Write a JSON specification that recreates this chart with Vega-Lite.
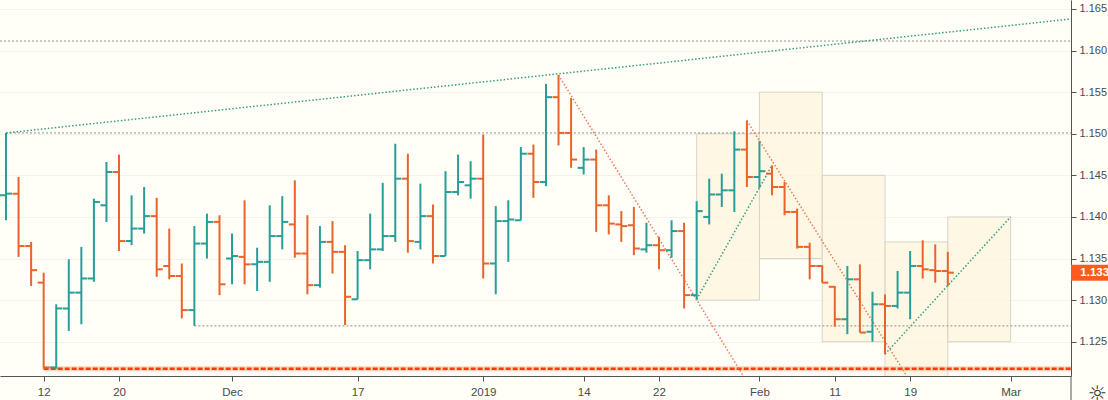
{
  "$schema": "https://vega.github.io/schema/vega-lite/v6.json",
  "width": 1071,
  "height": 376,
  "autosize": {"type": "none"},
  "padding": {"left": 0, "top": 0, "right": 37, "bottom": 24},
  "background": "#fffef7",
  "config": {"view": {"stroke": null}, "font": "Liberation Sans"},
  "datasets": {
    "bars": [
      {"i": 0, "o": 1.1426, "h": 1.1501, "l": 1.1396, "c": 1.1428},
      {"i": 1, "o": 1.1428, "h": 1.1448, "l": 1.1352, "c": 1.1365},
      {"i": 2, "o": 1.1365, "h": 1.1370, "l": 1.1317, "c": 1.1336},
      {"i": 3, "o": 1.1321, "h": 1.1333, "l": 1.12175, "c": 1.1219},
      {"i": 4, "o": 1.1219, "h": 1.1295, "l": 1.12175, "c": 1.1290},
      {"i": 5, "o": 1.1290, "h": 1.1349, "l": 1.1263, "c": 1.1309},
      {"i": 6, "o": 1.1309, "h": 1.1364, "l": 1.1271, "c": 1.1326},
      {"i": 7, "o": 1.1326, "h": 1.1422, "l": 1.1322, "c": 1.1418},
      {"i": 8, "o": 1.1414, "h": 1.1466, "l": 1.1394, "c": 1.1454},
      {"i": 9, "o": 1.1454, "h": 1.1475, "l": 1.1359, "c": 1.1371},
      {"i": 10, "o": 1.1371, "h": 1.1426, "l": 1.1366, "c": 1.1386},
      {"i": 11, "o": 1.1386, "h": 1.1436, "l": 1.1380, "c": 1.1401},
      {"i": 12, "o": 1.1401, "h": 1.1423, "l": 1.1328, "c": 1.1337},
      {"i": 13, "o": 1.1341, "h": 1.1386, "l": 1.1325, "c": 1.1329},
      {"i": 14, "o": 1.1329, "h": 1.1344, "l": 1.1278, "c": 1.1288},
      {"i": 15, "o": 1.1288, "h": 1.1389, "l": 1.1269, "c": 1.1368},
      {"i": 16, "o": 1.1368, "h": 1.1404, "l": 1.1350, "c": 1.1394},
      {"i": 17, "o": 1.1394, "h": 1.1402, "l": 1.1306, "c": 1.1319},
      {"i": 18, "o": 1.1350, "h": 1.1380, "l": 1.1319, "c": 1.1353},
      {"i": 19, "o": 1.1352, "h": 1.1420, "l": 1.1319, "c": 1.1343},
      {"i": 20, "o": 1.1343, "h": 1.1363, "l": 1.1311, "c": 1.1346},
      {"i": 21, "o": 1.1346, "h": 1.1414, "l": 1.1322, "c": 1.1377},
      {"i": 22, "o": 1.1377, "h": 1.1425, "l": 1.1361, "c": 1.1394},
      {"i": 23, "o": 1.1391, "h": 1.1444, "l": 1.1351, "c": 1.1356},
      {"i": 24, "o": 1.1356, "h": 1.1402, "l": 1.1307, "c": 1.1318},
      {"i": 25, "o": 1.1318, "h": 1.1389, "l": 1.1315, "c": 1.1370},
      {"i": 26, "o": 1.1370, "h": 1.1395, "l": 1.1332, "c": 1.1358},
      {"i": 27, "o": 1.1358, "h": 1.1366, "l": 1.1270, "c": 1.1304},
      {"i": 28, "o": 1.1301, "h": 1.1359, "l": 1.1301, "c": 1.1348},
      {"i": 29, "o": 1.1348, "h": 1.1404, "l": 1.1337, "c": 1.1361},
      {"i": 30, "o": 1.1361, "h": 1.1441, "l": 1.1359, "c": 1.1377},
      {"i": 31, "o": 1.1377, "h": 1.1488, "l": 1.1370, "c": 1.1446},
      {"i": 32, "o": 1.1446, "h": 1.1476, "l": 1.1357, "c": 1.1371},
      {"i": 33, "o": 1.1370, "h": 1.1440, "l": 1.1361, "c": 1.1401},
      {"i": 34, "o": 1.1401, "h": 1.1415, "l": 1.1344, "c": 1.1353},
      {"i": 35, "o": 1.1353, "h": 1.1455, "l": 1.1353, "c": 1.1430},
      {"i": 36, "o": 1.1430, "h": 1.1475, "l": 1.1426, "c": 1.1442},
      {"i": 37, "o": 1.1438, "h": 1.1467, "l": 1.1422, "c": 1.1446},
      {"i": 38, "o": 1.1446, "h": 1.1499, "l": 1.1326, "c": 1.1344},
      {"i": 39, "o": 1.1344, "h": 1.1413, "l": 1.1307, "c": 1.1395},
      {"i": 40, "o": 1.1395, "h": 1.1420, "l": 1.1346, "c": 1.1397},
      {"i": 41, "o": 1.1396, "h": 1.1484, "l": 1.1396, "c": 1.1476},
      {"i": 42, "o": 1.1476, "h": 1.1487, "l": 1.1423, "c": 1.1442},
      {"i": 43, "o": 1.1442, "h": 1.1560, "l": 1.1437, "c": 1.1544},
      {"i": 44, "o": 1.1544, "h": 1.15706, "l": 1.1486, "c": 1.1501},
      {"i": 45, "o": 1.1501, "h": 1.1543, "l": 1.1459, "c": 1.1469},
      {"i": 46, "o": 1.1459, "h": 1.1484, "l": 1.1451, "c": 1.1469},
      {"i": 47, "o": 1.1469, "h": 1.1481, "l": 1.1382, "c": 1.1414},
      {"i": 48, "o": 1.1414, "h": 1.1426, "l": 1.1379, "c": 1.1392},
      {"i": 49, "o": 1.1391, "h": 1.1407, "l": 1.1370, "c": 1.1389},
      {"i": 50, "o": 1.1390, "h": 1.1412, "l": 1.1354, "c": 1.1362},
      {"i": 51, "o": 1.1361, "h": 1.1393, "l": 1.1357, "c": 1.1366},
      {"i": 52, "o": 1.1366, "h": 1.1376, "l": 1.1337, "c": 1.1360},
      {"i": 53, "o": 1.1360, "h": 1.1396, "l": 1.1351, "c": 1.1383},
      {"i": 54, "o": 1.1383, "h": 1.1393, "l": 1.1290, "c": 1.1306},
      {"i": 55, "o": 1.1306, "h": 1.1419, "l": 1.1301, "c": 1.1407},
      {"i": 56, "o": 1.1400, "h": 1.1446, "l": 1.1391, "c": 1.1427},
      {"i": 57, "o": 1.1427, "h": 1.1452, "l": 1.1412, "c": 1.1432},
      {"i": 58, "o": 1.1432, "h": 1.1503, "l": 1.1406, "c": 1.1481},
      {"i": 59, "o": 1.1481, "h": 1.1516, "l": 1.1436, "c": 1.1448},
      {"i": 60, "o": 1.1448, "h": 1.1491, "l": 1.1435, "c": 1.1455},
      {"i": 61, "o": 1.1452, "h": 1.1462, "l": 1.1426, "c": 1.1436},
      {"i": 62, "o": 1.1436, "h": 1.1442, "l": 1.1402, "c": 1.1406},
      {"i": 63, "o": 1.1406, "h": 1.1410, "l": 1.1362, "c": 1.1364},
      {"i": 64, "o": 1.1364, "h": 1.1369, "l": 1.1325, "c": 1.1341},
      {"i": 65, "o": 1.1341, "h": 1.1342, "l": 1.1321, "c": 1.1321},
      {"i": 66, "o": 1.1316, "h": 1.1317, "l": 1.1268, "c": 1.1277},
      {"i": 67, "o": 1.1277, "h": 1.1341, "l": 1.1259, "c": 1.1325},
      {"i": 68, "o": 1.1325, "h": 1.1343, "l": 1.1261, "c": 1.1261},
      {"i": 69, "o": 1.1262, "h": 1.1310, "l": 1.1250, "c": 1.1295},
      {"i": 70, "o": 1.1295, "h": 1.1307, "l": 1.1235, "c": 1.1293},
      {"i": 71, "o": 1.1293, "h": 1.1335, "l": 1.1290, "c": 1.1309},
      {"i": 72, "o": 1.1309, "h": 1.1359, "l": 1.1277, "c": 1.1341},
      {"i": 73, "o": 1.1341, "h": 1.1372, "l": 1.1326, "c": 1.1337},
      {"i": 74, "o": 1.1336, "h": 1.1367, "l": 1.1321, "c": 1.1335},
      {"i": 75, "o": 1.1335, "h": 1.1358, "l": 1.1317, "c": 1.1333}
    ],
    "boxes": [
      {"x0": 55, "x1": 60, "lo": 1.1300, "hi": 1.1500},
      {"x0": 60, "x1": 65, "lo": 1.1350, "hi": 1.1550},
      {"x0": 65, "x1": 70, "lo": 1.1250, "hi": 1.1450},
      {"x0": 70, "x1": 75, "lo": 1.1170, "hi": 1.1370},
      {"x0": 75, "x1": 80, "lo": 1.1250, "hi": 1.1400}
    ],
    "levels": [
      {"x0": -0.478, "x1": 84.81, "y": 1.16115},
      {"x0": 0, "x1": 84.81, "y": 1.1501},
      {"x0": 15, "x1": 84.81, "y": 1.1269}
    ],
    "support": [
      {"x0": 3, "x1": 84.81, "y": 1.12175}
    ],
    "trends": [
      {"id": "g1", "kind": "up", "x": 0, "y": 1.1501},
      {"id": "g1", "kind": "up", "x": 84.81, "y": 1.1638},
      {"id": "r1", "kind": "down", "x": 44, "y": 1.15706},
      {"id": "r1", "kind": "down", "x": 60, "y": 1.11773},
      {"id": "r2", "kind": "down", "x": 59, "y": 1.15157},
      {"id": "r2", "kind": "down", "x": 73, "y": 1.11782},
      {"id": "g2", "kind": "up", "x": 55, "y": 1.1301},
      {"id": "g2", "kind": "up", "x": 61, "y": 1.1462},
      {"id": "g3", "kind": "up", "x": 70, "y": 1.1235},
      {"id": "g3", "kind": "up", "x": 80, "y": 1.1400}
    ],
    "last": [
      {"price": 1.1333, "lo": 1.13234, "hi": 1.13426, "label": "1.1334"}
    ]
  },
  "layer": [
    {
      "data": {"name": "boxes"},
      "mark": {"type": "rect", "fill": "#fcf4de", "fillOpacity": 0.75, "stroke": "#d8d4c6", "strokeWidth": 1, "clip": true},
      "encoding": {
        "x": {
          "field": "x0", "type": "quantitative", "title": null,
          "scale": {"domain": [-0.478, 84.81], "nice": false, "zero": false},
          "axis": {
            "values": [3, 9, 18, 28, 38, 46, 52, 60, 66, 72, 80],
            "labelExpr": "datum.value == 3 ? '12' : datum.value == 9 ? '20' : datum.value == 18 ? 'Dec' : datum.value == 28 ? '17' : datum.value == 38 ? '2019' : datum.value == 46 ? '14' : datum.value == 52 ? '22' : datum.value == 60 ? 'Feb' : datum.value == 66 ? '11' : datum.value == 72 ? '19' : 'Mar'",
            "grid": false,
            "domainColor": "#555555",
            "tickColor": "#555555",
            "tickSize": 5,
            "labelColor": "#4a4a4a",
            "labelFontSize": 11.5,
            "labelPadding": 5,
            "labelFlush": false
          }
        },
        "x2": {"field": "x1"},
        "y": {
          "field": "lo", "type": "quantitative", "title": null,
          "scale": {"domain": [1.120876, 1.166082], "nice": false, "zero": false},
          "axis": {
            "orient": "right",
            "values": [1.125, 1.13, 1.135, 1.14, 1.145, 1.15, 1.155, 1.16, 1.165],
            "format": ".3f",
            "grid": true,
            "gridColor": "#f3f3ea",
            "gridWidth": 1,
            "domainColor": "#555555",
            "tickColor": "#555555",
            "tickSize": 5,
            "labelColor": "#4a4a4a",
            "labelFontSize": 11,
            "labelPadding": 3,
            "labelFlush": false
          }
        },
        "y2": {"field": "hi"}
      }
    },
    {
      "data": {"name": "levels"},
      "mark": {"type": "rule", "stroke": "#909090", "strokeWidth": 1, "strokeDash": [2, 2], "clip": true},
      "encoding": {
        "x": {"field": "x0", "type": "quantitative", "title": null, "scale": {"domain": [-0.478, 84.81], "nice": false, "zero": false}},
        "x2": {"field": "x1"},
        "y": {"field": "y", "type": "quantitative", "title": null, "scale": {"domain": [1.120876, 1.166082], "nice": false, "zero": false}}
      }
    },
    {
      "data": {"name": "support"},
      "mark": {"type": "rule", "stroke": "#ffb89a", "strokeWidth": 5, "opacity": 0.6, "clip": true},
      "encoding": {
        "x": {"field": "x0", "type": "quantitative", "title": null, "scale": {"domain": [-0.478, 84.81], "nice": false, "zero": false}},
        "x2": {"field": "x1"},
        "y": {"field": "y", "type": "quantitative", "title": null, "scale": {"domain": [1.120876, 1.166082], "nice": false, "zero": false}}
      }
    },
    {
      "data": {"name": "support"},
      "mark": {"type": "rule", "stroke": "#ff3a12", "strokeWidth": 2.5, "strokeDash": [5, 2], "clip": true},
      "encoding": {
        "x": {"field": "x0", "type": "quantitative", "title": null, "scale": {"domain": [-0.478, 84.81], "nice": false, "zero": false}},
        "x2": {"field": "x1"},
        "y": {"field": "y", "type": "quantitative", "title": null, "scale": {"domain": [1.120876, 1.166082], "nice": false, "zero": false}}
      }
    },
    {
      "data": {"name": "trends"},
      "mark": {"type": "line", "strokeWidth": 1.5, "strokeDash": [1.5, 2], "clip": true},
      "encoding": {
        "x": {"field": "x", "type": "quantitative", "title": null, "scale": {"domain": [-0.478, 84.81], "nice": false, "zero": false}},
        "y": {"field": "y", "type": "quantitative", "title": null, "scale": {"domain": [1.120876, 1.166082], "nice": false, "zero": false}},
        "detail": {"field": "id"},
        "color": {"field": "kind", "type": "nominal", "scale": {"domain": ["up", "down"], "range": ["#3a9d80", "#ef7a58"]}, "legend": null}
      }
    },
    {
      "data": {"name": "bars"},
      "mark": {"type": "rule", "strokeWidth": 2},
      "encoding": {
        "x": {"field": "i", "type": "quantitative", "title": null, "scale": {"domain": [-0.478, 84.81], "nice": false, "zero": false}},
        "y": {"field": "l", "type": "quantitative", "title": null, "scale": {"domain": [1.120876, 1.166082], "nice": false, "zero": false}},
        "y2": {"field": "h"},
        "color": {"condition": {"test": "datum.c < datum.o", "value": "#e8642c"}, "value": "#279e98"}
      }
    },
    {
      "data": {"name": "bars"},
      "mark": {"type": "tick", "orient": "horizontal", "size": 6, "thickness": 2, "xOffset": -3, "opacity": 1},
      "encoding": {
        "x": {"field": "i", "type": "quantitative", "title": null, "scale": {"domain": [-0.478, 84.81], "nice": false, "zero": false}},
        "y": {"field": "o", "type": "quantitative", "title": null, "scale": {"domain": [1.120876, 1.166082], "nice": false, "zero": false}},
        "color": {"condition": {"test": "datum.c < datum.o", "value": "#e8642c"}, "value": "#279e98"}
      }
    },
    {
      "data": {"name": "bars"},
      "mark": {"type": "tick", "orient": "horizontal", "size": 6, "thickness": 2, "xOffset": 3, "opacity": 1},
      "encoding": {
        "x": {"field": "i", "type": "quantitative", "title": null, "scale": {"domain": [-0.478, 84.81], "nice": false, "zero": false}},
        "y": {"field": "c", "type": "quantitative", "title": null, "scale": {"domain": [1.120876, 1.166082], "nice": false, "zero": false}},
        "color": {"condition": {"test": "datum.c < datum.o", "value": "#e8642c"}, "value": "#279e98"}
      }
    },
    {
      "data": {"name": "last"},
      "mark": {"type": "rect", "fill": "#ff5b1f", "clip": false},
      "encoding": {
        "x": {"datum": 84.81, "type": "quantitative", "title": null, "scale": {"domain": [-0.478, 84.81], "nice": false, "zero": false}},
        "x2": {"datum": 88.0},
        "y": {"field": "lo", "type": "quantitative", "title": null, "scale": {"domain": [1.120876, 1.166082], "nice": false, "zero": false}},
        "y2": {"field": "hi"}
      }
    },
    {
      "data": {"name": "last"},
      "mark": {"type": "text", "align": "left", "baseline": "middle", "fill": "#ffffff", "fontWeight": "bold", "fontSize": 11.5, "clip": false},
      "encoding": {
        "x": {"datum": 85.55, "type": "quantitative", "title": null, "scale": {"domain": [-0.478, 84.81], "nice": false, "zero": false}},
        "y": {"field": "price", "type": "quantitative", "title": null, "scale": {"domain": [1.120876, 1.166082], "nice": false, "zero": false}},
        "text": {"field": "label"}
      }
    },
    {
      "data": {"name": "last"},
      "mark": {"type": "rule", "stroke": "#555555", "strokeWidth": 1, "clip": false},
      "encoding": {
        "x": {"datum": 84.81, "type": "quantitative", "title": null, "scale": {"domain": [-0.478, 84.81], "nice": false, "zero": false}},
        "y": {"datum": 1.120876, "type": "quantitative", "title": null, "scale": {"domain": [1.120876, 1.166082], "nice": false, "zero": false}},
        "y2": {"datum": 1.1179}
      }
    },
    {
      "data": {"name": "last"},
      "mark": {"type": "text", "text": "☼", "font": "DejaVu Sans", "fontSize": 22, "fill": "#333333", "align": "center", "baseline": "middle", "clip": false},
      "encoding": {
        "x": {"datum": 86.9, "type": "quantitative", "title": null, "scale": {"domain": [-0.478, 84.81], "nice": false, "zero": false}},
        "y": {"datum": 1.1187, "type": "quantitative", "title": null, "scale": {"domain": [1.120876, 1.166082], "nice": false, "zero": false}}
      }
    }
  ]
}
